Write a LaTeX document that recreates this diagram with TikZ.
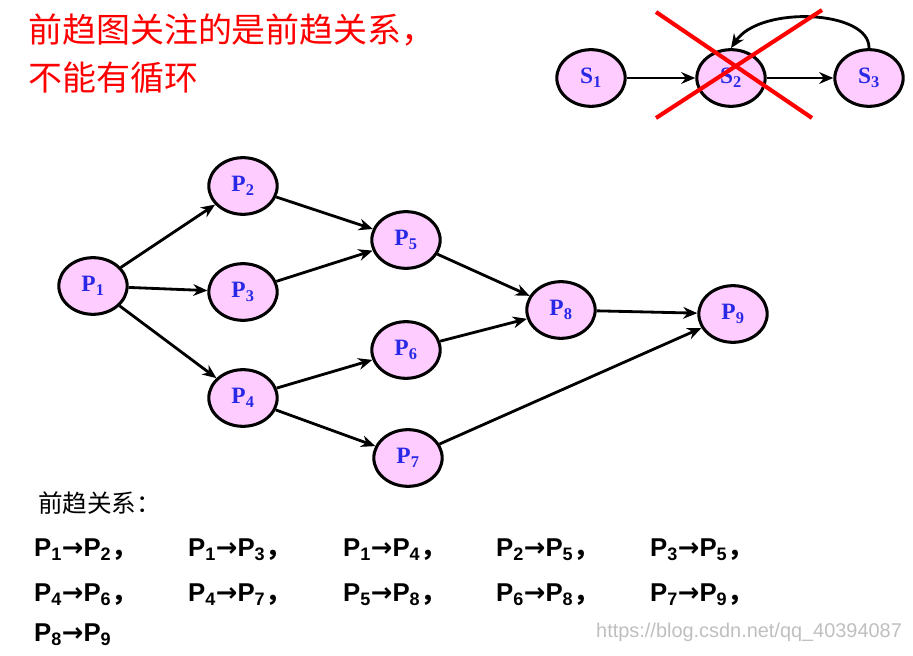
\documentclass[tikz,border=0pt]{standalone}
\usepackage{fontspec}
\setmainfont{Liberation Serif}
\newfontfamily\cjk{Noto Sans CJK SC}
\newfontfamily\arialb{Liberation Sans}
\newfontfamily\djvu{DejaVu Sans}
\usetikzlibrary{arrows.meta,shapes.geometric}
\definecolor{nodepink}{RGB}{255,204,255}
\definecolor{lblue}{RGB}{40,40,230}
\newcommand{\rl}[2]{P\textsubscript{#1}{\djvu→}P\textsubscript{#2}}
\tikzset{
  proc/.style={ellipse,draw=black,line width=2.6pt,fill=nodepink,minimum width=2.05cm,minimum height=1.7cm,inner sep=0pt,font=\fontsize{20}{20}\selectfont\bfseries,text=lblue},
  arr/.style={-{Stealth[length=12pt,width=10pt]},line width=2.4pt},
  rel/.style={anchor=west,font=\arialb\fontsize{22}{22}\selectfont\bfseries},
}
\begin{document}
\begin{tikzpicture}[x=0.03cm,y=-0.03cm]
\useasboundingbox (0,0) rectangle (913,656);
\node[anchor=west,text=red,font=\cjk\fontsize{29}{29}\selectfont] (t1) at (24,30) {前趋图关注的是前趋关系，};
\node[anchor=west,text=red,font=\cjk\fontsize{29}{29}\selectfont] (t2) at (24,78) {不能有循环};
\node[proc] (S1) at (591,78) {S\textsubscript{1}};
\node[proc] (S2) at (731,78) {S\textsubscript{2}};
\node[proc] (S3) at (869,78) {S\textsubscript{3}};
\draw[arr] (S1) -- (S2);
\draw[arr] (S2) -- (S3);
\draw[arr] (S3.north) .. controls (870,10) and (760,5) .. (S2.north);
\coordinate (c1) at (656,12); \coordinate (c2) at (812,118);
\coordinate (c3) at (656,118); \coordinate (c4) at (822,10);
\draw[red,line width=3.5pt] (c1) -- (c2);
\draw[red,line width=3.5pt] (c3) -- (c4);
\node[proc] (P1) at (93,286) {P\textsubscript{1}};
\node[proc] (P2) at (243,186) {P\textsubscript{2}};
\node[proc] (P3) at (243,292) {P\textsubscript{3}};
\node[proc] (P4) at (243,398) {P\textsubscript{4}};
\node[proc] (P5) at (406,240) {P\textsubscript{5}};
\node[proc] (P6) at (406,350) {P\textsubscript{6}};
\node[proc] (P7) at (408,458) {P\textsubscript{7}};
\node[proc] (P8) at (561,310) {P\textsubscript{8}};
\node[proc] (P9) at (733,314) {P\textsubscript{9}};
\foreach \a/\b in {P1/P2,P1/P3,P1/P4,P2/P5,P3/P5,P4/P6,P4/P7,P5/P8,P6/P8,P7/P9,P8/P9}
  \draw[arr] (\a) -- (\b);
\node[anchor=west,font=\cjk\fontsize{21}{21}\selectfont] (h) at (34,503) {前趋关系：};
\node[rel] (r1) at (30,550) {\rl12{\cjk，}};
\node[rel] (r2) at (184,550) {\rl13{\cjk，}};
\node[rel] (r3) at (339,550) {\rl14{\cjk，}};
\node[rel] (r4) at (492,550) {\rl25{\cjk，}};
\node[rel] (r5) at (646,550) {\rl35{\cjk，}};
\node[rel] (r6) at (30,595) {\rl46{\cjk，}};
\node[rel] (r7) at (184,595) {\rl47{\cjk，}};
\node[rel] (r8) at (339,595) {\rl58{\cjk，}};
\node[rel] (r9) at (492,595) {\rl68{\cjk，}};
\node[rel] (r10) at (646,595) {\rl79{\cjk，}};
\node[rel] (r11) at (30,635) {\rl89};
\node[anchor=east,text=black!25,font=\arialb\fontsize{17}{17}\selectfont] (wm) at (906,632) {https://blog.csdn.net/qq\_40394087};
\end{tikzpicture}
\end{document}
